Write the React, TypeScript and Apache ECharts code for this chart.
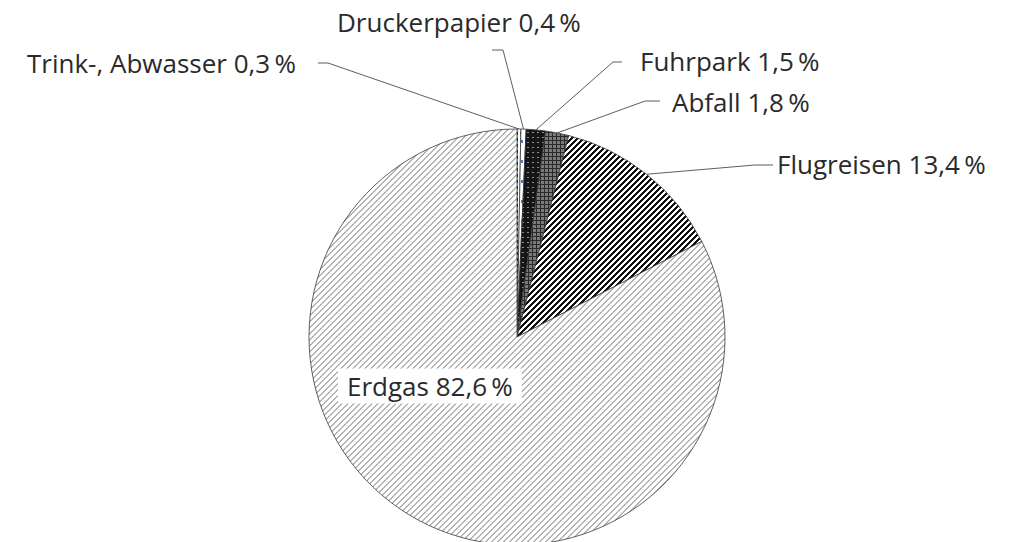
import React, { useEffect, useRef } from "react";
import * as echarts from "echarts";

const categories = ["Trink-, Abwasser", "Druckerpapier", "Fuhrpark", "Abfall", "Flugreisen", "Erdgas"];
const shares = [0.3, 0.4, 1.5, 1.8, 13.4, 82.6];
// label anchor (left edge x, middle y) and leader elbow points, in page pixels
const labelAnchors = [
  { x: 27, y: 63, elbow: [328, 63], end: [318, 63] },
  { x: 337, y: 22, elbow: [503, 50], end: [492, 50] },
  { x: 640, y: 61, elbow: [613, 62], end: [622, 62] },
  { x: 672, y: 102, elbow: [645, 101], end: [660, 101] },
  { x: 777, y: 164, elbow: [755, 165], end: [773, 165] },
  { x: 338, y: 386, elbow: null, end: null },
];

function makePattern(w: number, h: number, bg: string, fg: string, on: (x: number, y: number) => boolean) {
  const c = document.createElement("canvas");
  c.width = w;
  c.height = h;
  const ctx = c.getContext("2d")!;
  ctx.fillStyle = bg;
  ctx.fillRect(0, 0, w, h);
  ctx.fillStyle = fg;
  for (let y = 0; y < h; y++) for (let x = 0; x < w; x++) if (on(x, y)) ctx.fillRect(x, y, 1, 1);
  return { image: c.toDataURL(), repeat: "repeat", imageWidth: w, imageHeight: h } as any;
}

function fmt(v: number) {
  return v.toFixed(1).replace(".", ",") + "\u2009%";
}

export default function App() {
  const ref = useRef<HTMLDivElement>(null);
  useEffect(() => {
    if (!ref.current) return;
    const chart = echarts.init(ref.current, undefined, { renderer: "svg" });
    const patterns = [
      makePattern(4, 6, "#ffffff", "#111111", (x, y) => x < 2 && y % 6 < 3),
      makePattern(4, 20, "#ffffff", "#4a7fd6", (x, y) => x >= 1 && x <= 2 && y < 3),
      makePattern(5, 5, "#151515", "#8f8f8f", (x, y) => (x === 2 && y === 2) || (x === 3 && y === 2)),
      makePattern(4, 4, "#7a7a7a", "#2a2a2a", (x, y) => x === 0 || y === 0),
      makePattern(6, 6, "#ffffff", "#111111", (x, y) => (x + y) % 6 < 3),
      makePattern(6, 6, "#ffffff", "#b4b4b4", (x, y) => (x + y) % 6 < 2),
    ];
    const data = categories.map((name, i) => ({
      name,
      value: shares[i],
      itemStyle: { color: patterns[i] },
      label:
        i === 5
          ? { backgroundColor: "#ffffff", padding: [5, 9, 4, 9] }
          : {},
      labelLine: { show: i !== 5 },
    }));
    chart.setOption({
      animation: false,
      series: [
        {
          type: "pie",
          center: [517, 337],
          radius: 208,
          startAngle: 90,
          clockwise: true,
          avoidLabelOverlap: false,
          data,
          itemStyle: { borderColor: "#3a3a3a", borderWidth: 0.8 },
          label: {
            show: true,
            position: "outside",
            color: "#2a2a2a",
            fontFamily: "Open Sans",
            fontSize: 26,
            formatter: (p: any) => `${p.name} ${fmt(p.value)}`,
          },
          labelLine: { show: true, lineStyle: { color: "#333333", width: 0.8 } },
          labelLayout: (params: any) => {
            const a = labelAnchors[params.dataIndex];
            const res: any = { x: a.x, y: a.y, align: "left", verticalAlign: "middle" };
            if (a.elbow && params.labelLinePoints && params.labelLinePoints[0]) {
              res.labelLinePoints = [params.labelLinePoints[0], a.elbow, a.end];
            }
            return res;
          },
        },
      ],
    });
    return () => chart.dispose();
  }, []);
  return <div ref={ref} style={{ position: "fixed", left: 0, top: 0, width: 1016, height: 542, background: "#fff" }} />;
}
